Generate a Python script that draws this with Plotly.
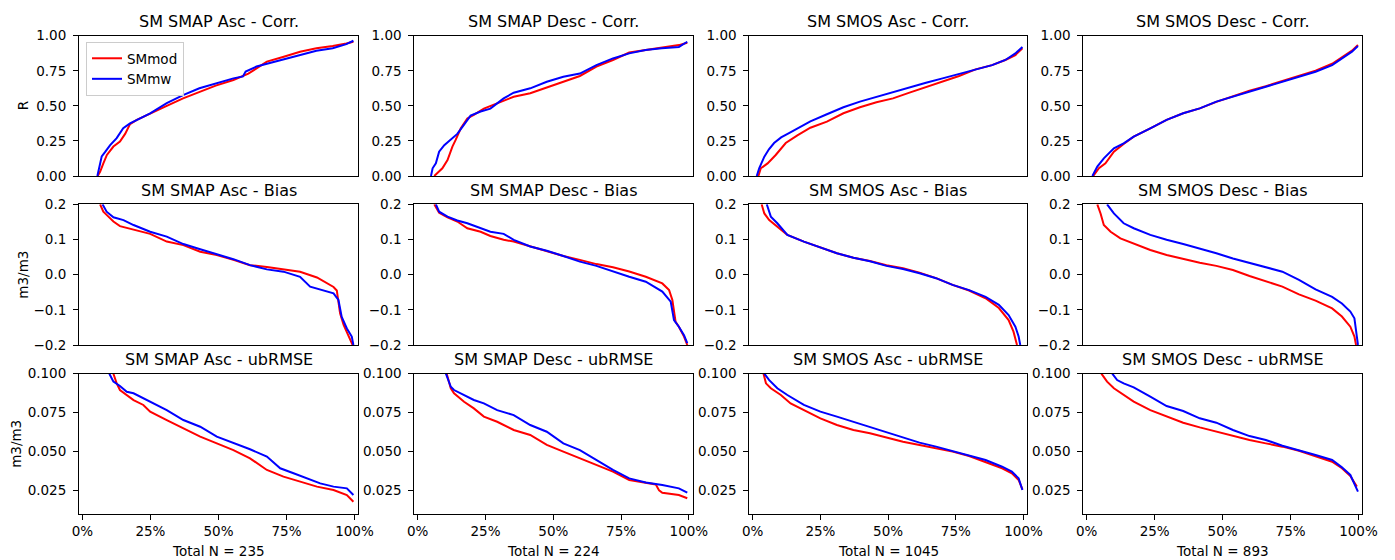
import plotly.graph_objects as go

# ---------------- data (x = % of sites, y = metric value) ----------------
# Row 1: Correlation
smap_asc_corr_mod_x = [5.6, 6.5, 7.7, 9.0, 11.4, 13.8, 15.7, 17.5, 20, 24.9, 31, 37, 43, 49, 55.5, 59, 61, 64, 67.8, 74, 80, 86, 92, 97, 99.6]
smap_asc_corr_mod_y = [0.0, 0.03, 0.09, 0.15, 0.21, 0.245, 0.30, 0.37, 0.40, 0.447, 0.50, 0.553, 0.60, 0.644, 0.684, 0.71, 0.73, 0.767, 0.815, 0.85, 0.886, 0.91, 0.926, 0.945, 0.957]
smap_asc_corr_mw_x = [5.5, 6.5, 7.1, 8.3, 10.2, 12.6, 15, 17.5, 20, 24.9, 31, 37, 43, 49, 55.5, 59, 60, 64, 67.8, 74, 80, 86, 92, 97, 99.6]
smap_asc_corr_mw_y = [0.0, 0.09, 0.14, 0.17, 0.22, 0.27, 0.34, 0.375, 0.40, 0.447, 0.52, 0.577, 0.625, 0.66, 0.696, 0.71, 0.745, 0.78, 0.80, 0.83, 0.862, 0.893, 0.91, 0.94, 0.964]

smap_desc_corr_mod_x = [6.1, 9.1, 11, 12.8, 14, 15.9, 18.3, 20.7, 24.4, 29.3, 35.4, 41.5, 47.6, 53.7, 59.8, 65.9, 72, 78, 84, 90, 96.3, 99.4]
smap_desc_corr_mod_y = [0.0, 0.055, 0.114, 0.21, 0.257, 0.34, 0.41, 0.435, 0.48, 0.518, 0.565, 0.59, 0.632, 0.672, 0.713, 0.78, 0.827, 0.88, 0.898, 0.914, 0.933, 0.95]
smap_desc_corr_mw_x = [4.9, 5.5, 6.7, 7.9, 9.8, 12.2, 14.6, 16.5, 19.5, 23.2, 26.8, 31.7, 35.4, 41.5, 47.6, 53.7, 59.8, 65.9, 72, 78, 84, 90, 96.3, 99.4]
smap_desc_corr_mw_y = [0.0, 0.055, 0.09, 0.173, 0.22, 0.257, 0.30, 0.35, 0.43, 0.46, 0.48, 0.553, 0.594, 0.625, 0.672, 0.708, 0.73, 0.79, 0.838, 0.874, 0.898, 0.91, 0.92, 0.957]

smos_asc_corr_mod_x = [2.1, 3.0, 5.5, 8.5, 12.2, 16.5, 21.3, 27.4, 33.5, 39.6, 45.7, 51.8, 57.9, 64, 70.1, 76.2, 82.3, 88.4, 93.3, 97, 99.6]
smos_asc_corr_mod_y = [0.0, 0.055, 0.09, 0.15, 0.235, 0.29, 0.344, 0.387, 0.447, 0.49, 0.525, 0.553, 0.594, 0.632, 0.672, 0.713, 0.76, 0.79, 0.827, 0.862, 0.91]
smos_asc_corr_mw_x = [1.5, 2.4, 4.3, 6.0, 7.9, 10.5, 13.4, 17, 21.3, 27.4, 33.5, 39.6, 45.7, 51.8, 57.9, 64, 70.1, 76.2, 82.3, 88.4, 93.3, 97, 99.6]
smos_asc_corr_mw_y = [0.0, 0.055, 0.138, 0.19, 0.235, 0.275, 0.305, 0.345, 0.39, 0.44, 0.49, 0.53, 0.565, 0.60, 0.632, 0.665, 0.696, 0.727, 0.76, 0.79, 0.827, 0.874, 0.92]

smos_desc_corr_mod_x = [2.4, 4.5, 6.9, 10, 13.6, 17.3, 23.4, 29.4, 35.5, 41.6, 47.7, 53.8, 59.9, 65.9, 72, 78.1, 84.2, 90.3, 93.9, 97.6, 99.8]
smos_desc_corr_mod_y = [0.0, 0.055, 0.09, 0.173, 0.228, 0.28, 0.34, 0.40, 0.447, 0.482, 0.528, 0.568, 0.608, 0.64, 0.675, 0.712, 0.75, 0.80, 0.845, 0.893, 0.933]
smos_desc_corr_mw_x = [2.1, 3.9, 6.3, 10, 13.6, 17.3, 23.4, 29.4, 35.5, 41.6, 47.7, 53.8, 59.9, 65.9, 72, 78.1, 84.2, 90.3, 93.9, 97.6, 99.8]
smos_desc_corr_mw_y = [0.0, 0.067, 0.126, 0.197, 0.233, 0.28, 0.34, 0.40, 0.447, 0.482, 0.53, 0.565, 0.60, 0.637, 0.672, 0.708, 0.743, 0.79, 0.838, 0.886, 0.926]

# Row 2: Bias
smap_asc_bias_mod_x = [6.5, 7.7, 8.9, 11.4, 13.8, 18.8, 24.9, 31, 37.1, 43.3, 49.4, 55.5, 61.6, 67.8, 73.9, 80, 86.2, 92.3, 93.5, 94.7, 96, 97.8, 99.0, 99.6]
smap_asc_bias_mod_y = [0.2, 0.179, 0.17, 0.151, 0.138, 0.129, 0.116, 0.094, 0.084, 0.065, 0.056, 0.042, 0.027, 0.022, 0.015, 0.008, -0.008, -0.035, -0.045, -0.11, -0.143, -0.172, -0.195, -0.205]
smap_asc_bias_mw_x = [7.4, 8.9, 11.4, 15.1, 18.8, 24.9, 31, 37.1, 43.3, 49.4, 55.5, 61.6, 67.8, 73.9, 80, 83.7, 86.2, 92.3, 94.1, 95.3, 97.2, 99.0, 99.6]
smap_asc_bias_mw_y = [0.2, 0.179, 0.163, 0.155, 0.141, 0.122, 0.108, 0.087, 0.072, 0.059, 0.044, 0.027, 0.015, 0.0085, -0.006, -0.034, -0.039, -0.053, -0.072, -0.12, -0.153, -0.176, -0.2]

smap_desc_bias_mod_x = [6.1, 7.9, 11, 14.6, 18.3, 23.2, 26.8, 31.7, 35.4, 41.5, 47.6, 53.7, 59.8, 65.9, 72, 78, 84.1, 90.2, 92.7, 93.9, 95.1, 96.3, 98.2, 99.4]
smap_desc_bias_mod_y = [0.2, 0.176, 0.163, 0.151, 0.132, 0.122, 0.11, 0.099, 0.094, 0.08, 0.065, 0.053, 0.042, 0.03, 0.021, 0.009, -0.006, -0.025, -0.044, -0.072, -0.134, -0.148, -0.176, -0.2]
smap_desc_bias_mw_x = [6.7, 7.9, 11, 14.6, 18.3, 23.2, 26.8, 31.7, 35.4, 41.5, 47.6, 53.7, 59.8, 65.9, 72, 78, 84.1, 90.2, 93.3, 94.5, 96.3, 98.2, 99.4]
smap_desc_bias_mw_y = [0.2, 0.179, 0.165, 0.154, 0.146, 0.132, 0.122, 0.116, 0.099, 0.08, 0.068, 0.053, 0.037, 0.025, 0.0085, -0.006, -0.02, -0.048, -0.077, -0.129, -0.148, -0.172, -0.195]

smos_asc_bias_mod_x = [3.3, 4.3, 6.1, 9.1, 12.8, 18.9, 25, 31.1, 37.2, 43.3, 49.4, 55.5, 61.6, 67.7, 73.8, 79.9, 86, 90.9, 94.5, 96.3, 97.6]
smos_asc_bias_mod_y = [0.2, 0.174, 0.155, 0.136, 0.113, 0.094, 0.077, 0.061, 0.048, 0.039, 0.027, 0.018, 0.0057, -0.01, -0.029, -0.045, -0.067, -0.095, -0.129, -0.162, -0.2]
smos_asc_bias_mw_x = [5.2, 6.7, 9.1, 12.8, 18.9, 25, 31.1, 37.2, 43.3, 49.4, 55.5, 61.6, 67.7, 73.8, 79.9, 86, 90.9, 94.5, 97, 98.2, 98.8]
smos_asc_bias_mw_y = [0.2, 0.165, 0.146, 0.113, 0.094, 0.077, 0.061, 0.048, 0.038, 0.025, 0.016, 0.004, -0.01, -0.029, -0.044, -0.063, -0.086, -0.115, -0.148, -0.176, -0.2]

smos_desc_bias_mod_x = [3.9, 5.1, 6.3, 8.8, 12.4, 17.3, 23.4, 29.4, 35.5, 41.6, 47.7, 53.8, 59.9, 65.9, 72, 78.1, 84.2, 90.3, 93.9, 97, 98.5, 99.1]
smos_desc_bias_mod_y = [0.2, 0.174, 0.141, 0.122, 0.103, 0.089, 0.07, 0.056, 0.044, 0.034, 0.025, 0.013, -0.004, -0.018, -0.034, -0.056, -0.074, -0.096, -0.119, -0.148, -0.176, -0.2]
smos_desc_bias_mw_x = [7.5, 10, 13.6, 17.3, 23.4, 29.4, 35.5, 41.6, 47.7, 53.8, 59.9, 65.9, 72, 78.1, 84.2, 90.3, 93.9, 97, 98.5, 99.4, 99.8]
smos_desc_bias_mw_y = [0.2, 0.174, 0.146, 0.132, 0.113, 0.099, 0.087, 0.075, 0.061, 0.046, 0.034, 0.021, 0.0085, -0.015, -0.042, -0.063, -0.082, -0.105, -0.124, -0.176, -0.2]

# Row 3: ubRMSE
smap_asc_ubrmse_mod_x = [11.4, 12.6, 13.8, 16.3, 18.8, 22.4, 24.9, 31, 37.1, 43.3, 49.4, 55.5, 61.6, 67.8, 73.9, 80, 86.2, 92.3, 97.2, 99.6]
smap_asc_ubrmse_mod_y = [0.1, 0.0938, 0.0895, 0.0863, 0.083, 0.0799, 0.0756, 0.0702, 0.0649, 0.0595, 0.0552, 0.0509, 0.0456, 0.0381, 0.0338, 0.0306, 0.0274, 0.0252, 0.022, 0.0177]
smap_asc_ubrmse_mw_x = [9.9, 11.4, 13.8, 16.3, 18.8, 22.4, 24.9, 31, 37.1, 43.3, 49.4, 55.5, 61.6, 67.8, 72.7, 77.6, 82.5, 87.4, 92.3, 97.2, 99.6]
smap_asc_ubrmse_mw_y = [0.1, 0.0949, 0.0921, 0.0884, 0.0874, 0.0841, 0.082, 0.0766, 0.0702, 0.0659, 0.0595, 0.0557, 0.0514, 0.0467, 0.0392, 0.036, 0.0327, 0.0295, 0.0274, 0.0263, 0.022]

smap_desc_ubrmse_mod_x = [10.7, 12.2, 13.4, 17.1, 20.7, 24.4, 29.3, 35.4, 41.5, 47.6, 53.7, 59.8, 65.9, 72, 78, 84.1, 87.8, 89.0, 90.2, 96.3, 99.4]
smap_desc_ubrmse_mod_y = [0.1, 0.0906, 0.0874, 0.082, 0.0777, 0.0724, 0.0691, 0.0638, 0.0606, 0.0542, 0.0499, 0.0456, 0.0413, 0.037, 0.0317, 0.030, 0.0288, 0.025, 0.0235, 0.022, 0.0199]
smap_desc_ubrmse_mw_x = [10.4, 12.2, 13.4, 17.1, 20.7, 24.4, 29.3, 35.4, 41.5, 47.6, 53.7, 59.8, 65.9, 72, 78, 84.1, 90.2, 96.3, 99.4]
smap_desc_ubrmse_mw_y = [0.1, 0.0916, 0.0895, 0.0863, 0.0831, 0.0809, 0.0766, 0.0734, 0.067, 0.0627, 0.0552, 0.0509, 0.0445, 0.0381, 0.0327, 0.030, 0.0284, 0.0263, 0.0235]

smos_asc_ubrmse_mod_x = [4.0, 4.9, 6.7, 10.4, 14, 18.9, 25, 31.1, 37.2, 43.3, 49.4, 55.5, 61.6, 67.7, 73.8, 79.9, 86, 92.1, 95.7, 98.2, 99.6]
smos_asc_ubrmse_mod_y = [0.1, 0.0938, 0.0906, 0.0863, 0.0809, 0.0766, 0.0713, 0.067, 0.0638, 0.0617, 0.0591, 0.0563, 0.0542, 0.052, 0.0499, 0.0471, 0.0434, 0.0392, 0.036, 0.0317, 0.0257]
smos_asc_ubrmse_mw_x = [4.3, 6.1, 9.1, 12.8, 18.9, 25, 31.1, 37.2, 43.3, 49.4, 55.5, 61.6, 67.7, 73.8, 79.9, 86, 92.1, 95.7, 98.2, 99.6]
smos_asc_ubrmse_mw_y = [0.1, 0.0959, 0.0906, 0.0863, 0.0799, 0.0756, 0.0724, 0.0691, 0.0659, 0.0627, 0.0591, 0.0557, 0.0531, 0.0503, 0.0477, 0.0445, 0.0402, 0.037, 0.0327, 0.0252]

smos_desc_ubrmse_mod_x = [5.4, 7.5, 10, 13.6, 17.3, 23.4, 29.4, 35.5, 41.6, 47.7, 53.8, 59.9, 65.9, 72, 78.1, 84.2, 90.3, 93.9, 97, 99.4]
smos_desc_ubrmse_mod_y = [0.1, 0.0949, 0.0906, 0.0863, 0.082, 0.0766, 0.0724, 0.0685, 0.0655, 0.0627, 0.0599, 0.0574, 0.0552, 0.0531, 0.0505, 0.0471, 0.0434, 0.0392, 0.0342, 0.0274]
smos_desc_ubrmse_mw_x = [9.4, 11.2, 13.6, 17.3, 23.4, 29.4, 35.5, 41.6, 47.7, 53.8, 59.9, 65.9, 72, 78.1, 84.2, 90.3, 93.9, 97, 99.8]
smos_desc_ubrmse_mw_y = [0.1, 0.0959, 0.0938, 0.0912, 0.0852, 0.0792, 0.076, 0.0713, 0.0685, 0.0638, 0.0599, 0.0574, 0.0537, 0.0509, 0.0477, 0.0445, 0.0398, 0.0349, 0.0242]

column_names = ["SM SMAP Asc", "SM SMAP Desc", "SM SMOS Asc", "SM SMOS Desc"]
row_metrics = ["Corr.", "Bias", "ubRMSE"]
total_n = [235, 224, 1045, 893]
series_names = ["SMmod", "SMmw"]
series_colors = ["red", "blue"]
x_tickvals = [0, 25, 50, 75, 100]
x_ticktext = ["0%", "25%", "50%", "75%", "100%"]

panels = [
    [(smap_asc_corr_mod_x, smap_asc_corr_mod_y, smap_asc_corr_mw_x, smap_asc_corr_mw_y),
     (smap_desc_corr_mod_x, smap_desc_corr_mod_y, smap_desc_corr_mw_x, smap_desc_corr_mw_y),
     (smos_asc_corr_mod_x, smos_asc_corr_mod_y, smos_asc_corr_mw_x, smos_asc_corr_mw_y),
     (smos_desc_corr_mod_x, smos_desc_corr_mod_y, smos_desc_corr_mw_x, smos_desc_corr_mw_y)],
    [(smap_asc_bias_mod_x, smap_asc_bias_mod_y, smap_asc_bias_mw_x, smap_asc_bias_mw_y),
     (smap_desc_bias_mod_x, smap_desc_bias_mod_y, smap_desc_bias_mw_x, smap_desc_bias_mw_y),
     (smos_asc_bias_mod_x, smos_asc_bias_mod_y, smos_asc_bias_mw_x, smos_asc_bias_mw_y),
     (smos_desc_bias_mod_x, smos_desc_bias_mod_y, smos_desc_bias_mw_x, smos_desc_bias_mw_y)],
    [(smap_asc_ubrmse_mod_x, smap_asc_ubrmse_mod_y, smap_asc_ubrmse_mw_x, smap_asc_ubrmse_mw_y),
     (smap_desc_ubrmse_mod_x, smap_desc_ubrmse_mod_y, smap_desc_ubrmse_mw_x, smap_desc_ubrmse_mw_y),
     (smos_asc_ubrmse_mod_x, smos_asc_ubrmse_mod_y, smos_asc_ubrmse_mw_x, smos_asc_ubrmse_mw_y),
     (smos_desc_ubrmse_mod_x, smos_desc_ubrmse_mod_y, smos_desc_ubrmse_mw_x, smos_desc_ubrmse_mw_y)],
]

# ---------------- layout geometry (pixels) ----------------
W, H = 1395, 560
col_px = [(79, 358.3), (414.3, 692.7), (749.3, 1027.3), (1083.3, 1362.3)]
row_px = [(35.7, 176), (204.3, 345), (373.7, 514)]

row_axis = [
    dict(range=[0, 1], tickvals=[0, 0.25, 0.5, 0.75, 1.0], tickformat=".2f"),
    dict(range=[-0.2, 0.2], tickvals=[-0.2, -0.1, 0.0, 0.1, 0.2], tickformat=".1f"),
    dict(range=[0.0098, 0.1], tickvals=[0.025, 0.05, 0.075, 0.1], tickformat=".3f"),
]
y_titles = ["R", "m3/m3", "m3/m3"]
y_title_x = [22.5, 23, 16]

FONT = "DejaVu Sans"
fig = go.Figure()
annotations = []
layout = {}

for r in range(3):
    for c in range(4):
        idx = r * 4 + c + 1
        xa = "x" if idx == 1 else f"x{idx}"
        ya = "y" if idx == 1 else f"y{idx}"
        xkey = "xaxis" if idx == 1 else f"xaxis{idx}"
        ykey = "yaxis" if idx == 1 else f"yaxis{idx}"
        x0, x1 = col_px[c]
        y0, y1 = row_px[r]
        common = dict(showline=True, mirror=True, linecolor="black", linewidth=1,
                      showgrid=False, zeroline=False, automargin=False,
                      tickfont=dict(family=FONT, size=13.5, color="black"))
        xcfg = dict(domain=[x0 / W, x1 / W], anchor=ya, range=[-1.25, 101.4], **common)
        if r == 2:
            xcfg.update(ticks="outside", ticklen=5, tickwidth=1, tickcolor="black",
                        tickmode="array", tickvals=x_tickvals, ticktext=x_ticktext,
                        showticklabels=True)
        else:
            xcfg.update(ticks="", showticklabels=False)
        ycfg = dict(domain=[1 - y1 / H, 1 - y0 / H], anchor=xa, ticks="outside", ticklen=5,
                    tickwidth=1, tickcolor="black", ticklabelstandoff=4, **row_axis[r], **common)
        layout[xkey] = xcfg
        layout[ykey] = ycfg

        mod_x, mod_y, mw_x, mw_y = panels[r][c]
        for s, (xs, ys) in enumerate([(mod_x, mod_y), (mw_x, mw_y)]):
            fig.add_trace(go.Scatter(
                x=xs, y=ys, mode="lines", name=series_names[s],
                line=dict(color=series_colors[s], width=2),
                xaxis=xa, yaxis=ya, showlegend=(idx == 1), hoverinfo="skip"))

        # subplot title
        annotations.append(dict(
            text=f"{column_names[c]} - {row_metrics[r]}", xref="paper", yref="paper",
            x=(x0 + x1) / 2 / W, y=1 - (y0 - 14) / H, xanchor="center", yanchor="middle",
            showarrow=False, font=dict(family=FONT, size=16, color="black")))

    annotations.append(dict(
        text=y_titles[r], xref="paper", yref="paper", x=y_title_x[r] / W,
        y=1 - ((row_px[r][0] + row_px[r][1]) / 2) / H, xanchor="center", yanchor="middle",
        textangle=-90, showarrow=False, font=dict(family=FONT, size=13.5, color="black")))

for c in range(4):
    x0, x1 = col_px[c]
    annotations.append(dict(
        text=f"Total N = {total_n[c]}", xref="paper", yref="paper",
        x=(x0 + x1) / 2 / W, y=1 - 551 / H, xanchor="center", yanchor="middle",
        showarrow=False, font=dict(family=FONT, size=13.5, color="black")))

fig.update_layout(
    width=W, height=H, margin=dict(l=0, r=0, t=0, b=0, pad=0), autosize=False,
    paper_bgcolor="white", plot_bgcolor="white",
    font=dict(family=FONT, size=13.5, color="black"),
    annotations=annotations,
    legend=dict(x=86 / W, y=1 - 42 / H, xanchor="left", yanchor="top",
                bgcolor="rgba(255,255,255,0.8)", bordercolor="#cccccc", borderwidth=1,
                font=dict(family=FONT, size=13.5, color="black"),
                itemwidth=30, tracegroupgap=0, entrywidth=100, entrywidthmode="pixels"),
    **layout,
)

fig.write_html(
    "out.html",
    post_script="document.body.style.margin='0';document.body.style.overflow='hidden';",
)
